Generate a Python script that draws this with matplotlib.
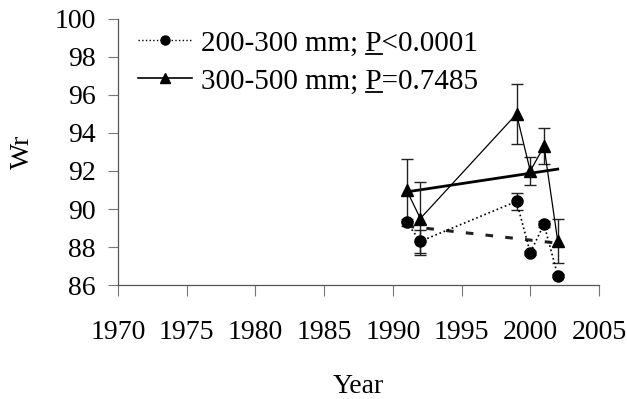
import matplotlib
matplotlib.use("Agg")
import matplotlib.pyplot as plt
from matplotlib.lines import Line2D

plt.rcParams['font.family'] = ['Liberation Serif', 'DejaVu Serif']

years = [1991, 1992, 1999, 2000, 2001, 2002]
wr_small = [89.3, 88.3, 90.4, 87.7, 89.2, 86.5]
err_small = [0.2, 0.6, 0.45, 0.1, 0.15, 0.1]
wr_large = [91.0, 89.5, 95.0, 92.0, 93.3, 88.3]
err_large = [1.65, 1.9, 1.6, 0.75, 0.95, 1.15]

trend_years = [1991, 2002]
trend_small = [89.1, 88.2]
trend_large = [90.9, 92.1]

prefix_small = '200-300 mm; '
prefix_large = '300-500 mm; '
label_small = prefix_small + 'P<0.0001'
label_large = prefix_large + 'P=0.7485'

xticks = [1970, 1975, 1980, 1985, 1990, 1995, 2000, 2005]
yticks = [86, 88, 90, 92, 94, 96, 98, 100]

FS = 20

fig = plt.figure(figsize=(6.27, 3.99), dpi=100)
ax = fig.add_axes([0.1882, 0.2857, 0.7671, 0.6667])

ax.errorbar(years, wr_small, yerr=err_small, fmt='o', color='black', ms=8,
            ecolor='#222222', elinewidth=1, capsize=4, capthick=1, linestyle=':',
            lw=1.2, zorder=3)
ax.errorbar(years, wr_large, yerr=err_large, fmt='^', color='black', ms=8.5,
            ecolor='#222222', elinewidth=1, capsize=4, capthick=1, linestyle='-',
            lw=0.9, zorder=3)
ax.plot(trend_years, trend_small, linestyle=(0, (2.5, 4)), color='#222222', lw=2.2)
ax.plot(trend_years, trend_large, linestyle='-', color='black', lw=2)

ax.set_xlim(1970, 2005)
ax.set_ylim(86, 100)
ax.set_xticks(xticks)
ax.set_yticks(yticks)
ax.tick_params(axis='both', labelsize=FS, direction='out', color='#777777')
ax.tick_params(axis='x', length=8, pad=17)
ax.tick_params(axis='y', length=7, pad=9)
for s in ['top', 'right']:
    ax.spines[s].set_visible(False)
for s in ['left', 'bottom']:
    ax.spines[s].set_color('#555555')
    ax.spines[s].set_linewidth(0.9)

ax.set_xlabel('Year', fontsize=FS, labelpad=21)
ax.set_ylabel('Wr', fontsize=FS, labelpad=14)

handles = [
    Line2D([], [], color='black', linestyle=':', lw=1.0, marker='o', ms=6.5),
    Line2D([], [], color='black', linestyle='-', lw=1.2, marker='^', ms=7),
]
leg = ax.legend(handles, [label_small, label_large], loc='upper left',
                bbox_to_anchor=(0.0, 1.035), frameon=False,
                fontsize=21, handlelength=1.85, handletextpad=0.3,
                labelspacing=0.4, borderaxespad=0.3)

# underline the "P" in each legend label
fig.canvas.draw()
renderer = fig.canvas.get_renderer()
inv = fig.transFigure.inverted()
for txt, prefix in zip(leg.get_texts(), [prefix_small, prefix_large]):
    bb = txt.get_window_extent(renderer)
    prop = txt.get_fontproperties()
    w_pre, _, _ = renderer.get_text_width_height_descent(prefix, prop, ismath=False)
    w_p, _, _ = renderer.get_text_width_height_descent('P', prop, ismath=False)
    _, _, desc = renderer.get_text_width_height_descent(txt.get_text(), prop, ismath=False)
    x0 = bb.x0 + w_pre
    x1 = x0 + w_p
    y = bb.y0 + desc - 3
    (fx0, fy), (fx1, _) = inv.transform([(x0, y), (x1, y)])
    fig.add_artist(Line2D([fx0, fx1], [fy, fy], color='black', lw=1.3,
                          transform=fig.transFigure))

fig.savefig('out.png', dpi=100, facecolor='white')
